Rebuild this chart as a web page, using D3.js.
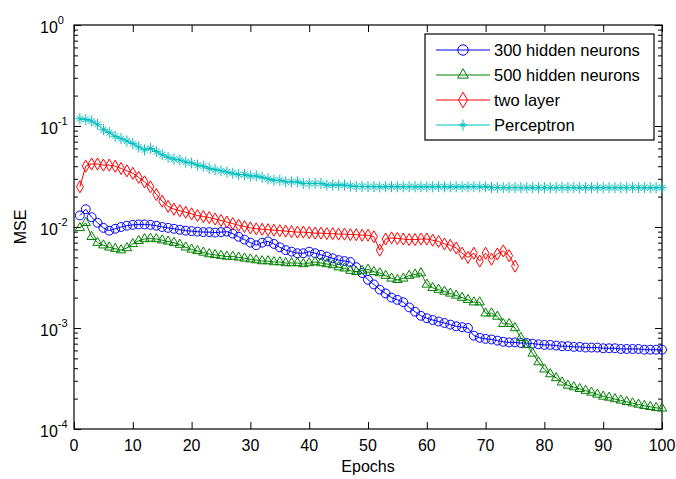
<!DOCTYPE html>
<html>
<head>
<meta charset="utf-8">
<script src="https://cdn.jsdelivr.net/npm/d3@7"></script>
<style>
  body { margin: 0; background: #fff; }
  text { font-family: "Liberation Sans", Arial, sans-serif; fill: #000; }
</style>
</head>
<body>
<div id="chart"></div>
<script>
// MSE per epoch
var mse300 = [
  0.0130, 0.0150, 0.0125, 0.0110, 0.0098, 0.0092, 0.0096, 0.0100, 0.0103, 0.0105,
  0.0106, 0.0106, 0.0105, 0.0103, 0.0100, 0.0098, 0.0096, 0.0094, 0.0092, 0.0091,
  0.0090, 0.0089, 0.0089, 0.0088, 0.0089, 0.0090, 0.0086, 0.0080, 0.0075, 0.0070,
  0.0066, 0.0070, 0.0072, 0.0068, 0.0063, 0.0059, 0.0057, 0.0055, 0.0055, 0.0057,
  0.0055, 0.0053, 0.0051, 0.0049, 0.0047, 0.0046, 0.0045, 0.0040, 0.0035, 0.0030,
  0.0027, 0.0024, 0.0022, 0.0020, 0.0019, 0.0018, 0.0016, 0.00145, 0.00132, 0.00125,
  0.00120, 0.00116, 0.00112, 0.00108, 0.00104, 0.00102, 0.00100, 0.00084, 0.00080, 0.00078,
  0.00077, 0.00075, 0.00073, 0.00072, 0.00072, 0.00071, 0.00071, 0.00070, 0.00069, 0.00068,
  0.00068, 0.00067, 0.00066, 0.00066, 0.00065, 0.00065, 0.00064, 0.00064, 0.00064, 0.00063,
  0.00063, 0.00063, 0.00062, 0.00062, 0.00062, 0.00062, 0.00061, 0.00061, 0.00061, 0.00061
];
var mse500 = [
  0.0098, 0.0110, 0.0080, 0.0070, 0.0066, 0.0063, 0.0061, 0.0059, 0.0062, 0.0068,
  0.0073, 0.0076, 0.0077, 0.0076, 0.0074, 0.0072, 0.0070, 0.0067, 0.0063, 0.0060,
  0.0058, 0.0056, 0.0054, 0.0053, 0.0052, 0.0051, 0.0051, 0.0050, 0.0049, 0.0048,
  0.0047, 0.0046, 0.0046, 0.0045, 0.0045, 0.0044, 0.0044, 0.0044, 0.0043, 0.0044,
  0.0045, 0.0044, 0.0043, 0.0042, 0.0040, 0.0039, 0.0037, 0.0036, 0.0037, 0.0038,
  0.0036, 0.0035, 0.0033, 0.0031, 0.0030, 0.0031, 0.0033, 0.0034, 0.0035, 0.0027,
  0.0025, 0.0024, 0.0023, 0.0022, 0.0021, 0.0020, 0.0019, 0.0018, 0.0018, 0.0014,
  0.0014, 0.0013, 0.0011, 0.0011, 0.0010, 0.00080, 0.00068, 0.00056, 0.00046, 0.00039,
  0.00035, 0.00032, 0.00029, 0.00027, 0.00026, 0.00025, 0.00024, 0.00023, 0.00022, 0.00021,
  0.000205, 0.000198, 0.000192, 0.000186, 0.000180, 0.000175, 0.000170, 0.000166, 0.000162, 0.000160
];
var mseTwoLayer = [
  0.025, 0.040, 0.042, 0.042, 0.041, 0.041, 0.040, 0.038, 0.036, 0.034,
  0.031, 0.028, 0.025, 0.021, 0.018, 0.016, 0.0150, 0.0145, 0.0140, 0.0135,
  0.0130, 0.0127, 0.0124, 0.0120, 0.0116, 0.0112, 0.0108, 0.0104, 0.0101, 0.0098,
  0.0096, 0.0095, 0.0094, 0.0093, 0.0092, 0.0091, 0.0090, 0.0089, 0.0089, 0.0088,
  0.0087, 0.0087, 0.0086, 0.0086, 0.0085, 0.0085, 0.0084, 0.0084, 0.0083, 0.0083,
  0.0080, 0.0059, 0.0076, 0.0078, 0.0077, 0.0076, 0.0075, 0.0075, 0.0076, 0.0076,
  0.0074, 0.0072, 0.0068, 0.0066, 0.0062, 0.0055, 0.0050, 0.0055, 0.0046, 0.0055,
  0.0048, 0.0054, 0.0058, 0.0052, 0.0041
];
var msePerceptron = [
  0.118, 0.116, 0.112, 0.104, 0.092, 0.086, 0.079, 0.075, 0.071, 0.067,
  0.062, 0.058, 0.060, 0.056, 0.052, 0.049, 0.047, 0.046, 0.044, 0.043,
  0.041, 0.040, 0.038, 0.037, 0.036, 0.035, 0.034, 0.033, 0.033, 0.032,
  0.032, 0.031, 0.030, 0.029, 0.029, 0.028, 0.028, 0.028, 0.027, 0.027,
  0.027, 0.027, 0.026, 0.026, 0.026, 0.026, 0.0255, 0.0252, 0.0252, 0.0251,
  0.0251, 0.0250, 0.0250, 0.0251, 0.0250, 0.0250, 0.0251, 0.0250, 0.0250, 0.0250,
  0.0250, 0.0251, 0.0250, 0.0250, 0.0250, 0.0250, 0.0250, 0.0251, 0.0250, 0.0250,
  0.0246, 0.0245, 0.0245, 0.0245, 0.0246, 0.0245, 0.0245, 0.0245, 0.0245, 0.0245,
  0.0245, 0.0245, 0.0246, 0.0245, 0.0245, 0.0245, 0.0245, 0.0245, 0.0245, 0.0245,
  0.0245, 0.0245, 0.0245, 0.0245, 0.0246, 0.0245, 0.0245, 0.0245, 0.0245, 0.0245
];
var seriesNames = ["300 hidden neurons", "500 hidden neurons", "two layer", "Perceptron"];
var xTicks = [0, 10, 20, 30, 40, 50, 60, 70, 80, 90, 100];
var yExponents = [0, -1, -2, -3, -4];

// Chart size
var totalW = 676, totalH = 479;
var margin = { top: 25, right: 14, bottom: 50, left: 74 };
var width = totalW - margin.left - margin.right;
var height = totalH - margin.top - margin.bottom;

var svg = d3.select("#chart").append("svg")
  .attr("width", totalW)
  .attr("height", totalH);
var g = svg.append("g")
  .attr("transform", "translate(" + margin.left + "," + margin.top + ")");

var x = d3.scaleLinear().domain([0, 100]).range([0, width]);
var y = d3.scaleLog().domain([1e-4, 1]).range([height, 0]);

// marker shapes
var circlePath = d3.symbol().type(d3.symbolCircle).size(62)();
var trianglePath = d3.symbol().type(d3.symbolTriangle).size(38)();
var diamondPath = d3.symbol().type(d3.symbolDiamond).size(42)();
var starPath = "M-4.5,0H4.5M0,-5.5V5.5M-3,-3L3,3M-3,3L3,-3";

var series = [
  { name: seriesNames[0], values: mse300, color: "#0000ff", marker: circlePath },
  { name: seriesNames[1], values: mse500, color: "#008000", marker: trianglePath },
  { name: seriesNames[2], values: mseTwoLayer, color: "#ff0000", marker: diamondPath },
  { name: seriesNames[3], values: msePerceptron, color: "#00bfbf", marker: starPath }
];

// axes with inward ticks (MATLAB style)
var minorTicks = [];
yExponents.forEach(function (e) {
  if (e === 0) return;
  for (var k = 2; k <= 9; k++) minorTicks.push(k * Math.pow(10, e));
});
var majorY = yExponents.map(function (e) { return Math.pow(10, e); });

g.append("g").attr("transform", "translate(0," + height + ")")
  .call(d3.axisBottom(x).tickValues(xTicks).tickSize(-7).tickFormat(""));
g.append("g")
  .call(d3.axisTop(x).tickValues(xTicks).tickSize(-7).tickFormat(""));
g.append("g")
  .call(d3.axisLeft(y).tickValues(majorY).tickSize(-7).tickFormat(""));
g.append("g")
  .call(d3.axisLeft(y).tickValues(minorTicks).tickSize(-4).tickFormat(""));
g.append("g").attr("transform", "translate(" + width + ",0)")
  .call(d3.axisRight(y).tickValues(majorY).tickSize(-7).tickFormat(""));
g.append("g").attr("transform", "translate(" + width + ",0)")
  .call(d3.axisRight(y).tickValues(minorTicks).tickSize(-4).tickFormat(""));
g.selectAll(".domain").remove();
g.selectAll(".tick line").attr("stroke", "#000");

// box
g.append("rect")
  .attr("width", width).attr("height", height)
  .attr("fill", "none").attr("stroke", "#000").attr("stroke-width", 1.2);

// tick labels
g.selectAll(".xlab").data(xTicks).enter().append("text")
  .attr("x", function (d) { return x(d); })
  .attr("y", height + 22)
  .attr("text-anchor", "middle")
  .style("font-size", "16px")
  .text(function (d) { return d; });

var ylab = g.selectAll(".ylab").data(yExponents).enter().append("text")
  .attr("x", -34)
  .attr("y", function (d) { return y(Math.pow(10, d)) + 8; })
  .style("font-size", "16px");
ylab.append("tspan").text("10");
ylab.append("tspan")
  .attr("dy", -9)
  .style("font-size", "11px")
  .text(function (d) { return d; });

// axis titles
g.append("text")
  .attr("x", width / 2).attr("y", height + 43)
  .attr("text-anchor", "middle")
  .style("font-size", "16px")
  .text("Epochs");
g.append("text")
  .attr("transform", "translate(-48," + (height / 2) + ") rotate(-90)")
  .attr("text-anchor", "middle")
  .style("font-size", "16px")
  .text("MSE");

// lines and markers
var plot = g.append("g");
var line = d3.line()
  .x(function (d, i) { return x(i + 1); })
  .y(function (d) { return y(d); });

series.forEach(function (s) {
  var sg = plot.append("g");
  sg.append("path")
    .datum(s.values)
    .attr("d", line)
    .attr("fill", "none")
    .attr("stroke", s.color)
    .attr("stroke-width", 1);
  sg.selectAll("path.m").data(s.values).enter().append("path")
    .attr("class", "m")
    .attr("d", s.marker)
    .attr("transform", function (d, i) { return "translate(" + x(i + 1) + "," + y(d) + ")"; })
    .attr("fill", "none")
    .attr("stroke", s.color)
    .attr("stroke-width", 1);
});

// legend
var legend = g.append("g").attr("transform", "translate(" + (425 - margin.left) + "," + (34 - margin.top) + ")");
legend.append("rect")
  .attr("width", 229).attr("height", 106)
  .attr("fill", "#fff").attr("stroke", "#000").attr("stroke-width", 1.2);
var legendMarkers = [
  d3.symbol().type(d3.symbolCircle).size(85)(),
  d3.symbol().type(d3.symbolTriangle).size(50)(),
  d3.symbol().type(d3.symbolDiamond).size(70)(),
  "M-4.5,0H4.5M0,-5.5V5.5M-2,-2L2,2M-2,2L2,-2"
];
var rows = legend.selectAll(".row").data(series).enter().append("g")
  .attr("transform", function (d, i) { return "translate(0," + (16 + i * 25) + ")"; });
rows.append("line")
  .attr("x1", 11).attr("x2", 65)
  .attr("stroke", function (d) { return d.color; })
  .attr("stroke-width", 1);
rows.append("path")
  .attr("d", function (d, i) { return legendMarkers[i]; })
  .attr("transform", "translate(38,0)")
  .attr("fill", "none")
  .attr("stroke", function (d) { return d.color; })
  .attr("stroke-width", 1);
rows.append("text")
  .attr("x", 69).attr("y", 6)
  .style("font-size", "16.5px")
  .text(function (d) { return d.name; });
</script>
</body>
</html>
